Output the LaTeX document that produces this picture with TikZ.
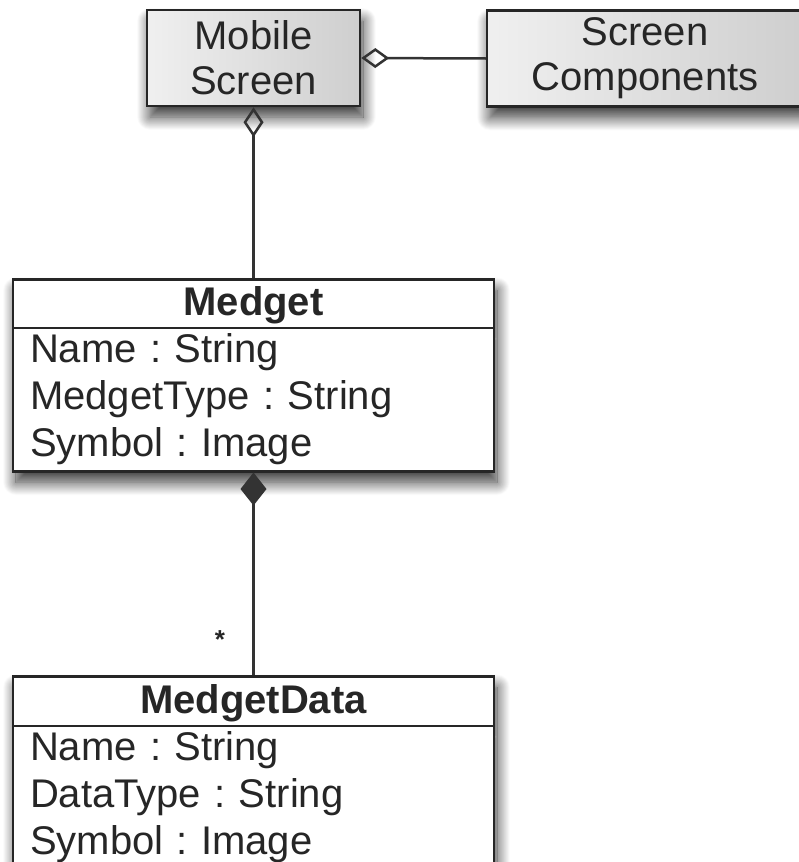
\documentclass[tikz,border=0pt]{standalone}
\usepackage{fontspec}
\setmainfont{Liberation Sans}
\usetikzlibrary{arrows.meta,shapes.multipart,shadows.blur}

\tikzset{
  umlshadow/.style={blur shadow={shadow xshift=3pt,shadow yshift=-11pt,shadow blur radius=13pt,shadow blur steps=20,shadow opacity=80}},
  screenbox/.style={draw=black!85,line width=2.5pt,left color=gray!12,right color=gray!38,
    minimum width=213pt,minimum height=96pt,align=center,inner sep=0pt,
    font=\fontsize{40}{45}\selectfont,umlshadow},
  classbox/.style={rectangle split,rectangle split parts=2,draw=black!85,line width=2.5pt,
    fill=white,text width=447pt,align=left,inner xsep=17pt,inner ysep=0pt,umlshadow},
  link/.style={draw=black!80,line width=2.5pt},
}

\begin{document}
\frenchspacing
\begin{tikzpicture}[x=1pt,y=-1pt,font=\fontsize{40}{47}\selectfont,text=black!85]

    \useasboundingbox (0,0) rectangle (799,862);

    % screens
    \node[screenbox] (mobile) at (253.5,58) {Mobile\\Screen};
    \node[screenbox,minimum width=316pt] (comp) at (645,58.5) {Screen\\Components};

    % medget class
    \node[classbox,anchor=north] (medget) at (253.5,278)
      {\hspace*{\fill}\rule[-11pt]{0pt}{46pt}\textbf{Medget}\hspace*{\fill}
       \nodepart{second}\rule{0pt}{33pt}Name : String\\MedgetType : String\\Symbol : Image\rule[-14pt]{0pt}{14pt}};

    % medget data class
    \node[classbox,anchor=north] (medgetdata) at (253.5,675)
      {\hspace*{\fill}\rule[-11pt]{0pt}{47pt}\textbf{MedgetData}\hspace*{\fill}
       \nodepart{second}\rule{0pt}{33pt}Name : String\\DataType : String\\Symbol : Image\rule[-14pt]{0pt}{14pt}};

    % aggregations
    \draw[link,{Diamond[open,length=28pt,width=20pt]}-] (mobile.east) -- (comp.west);
    \draw[link,{Diamond[open,length=30pt,width=20pt]}-] (mobile.south) -- (medget.north);

    % composition
    \draw[link,{Diamond[length=33pt,width=26pt]}-] (medget.south) -- (medgetdata.north);
    \node[font=\bfseries\fontsize{26}{26}\selectfont] (mult) at (220,640) {*};

\end{tikzpicture}
\end{document}
